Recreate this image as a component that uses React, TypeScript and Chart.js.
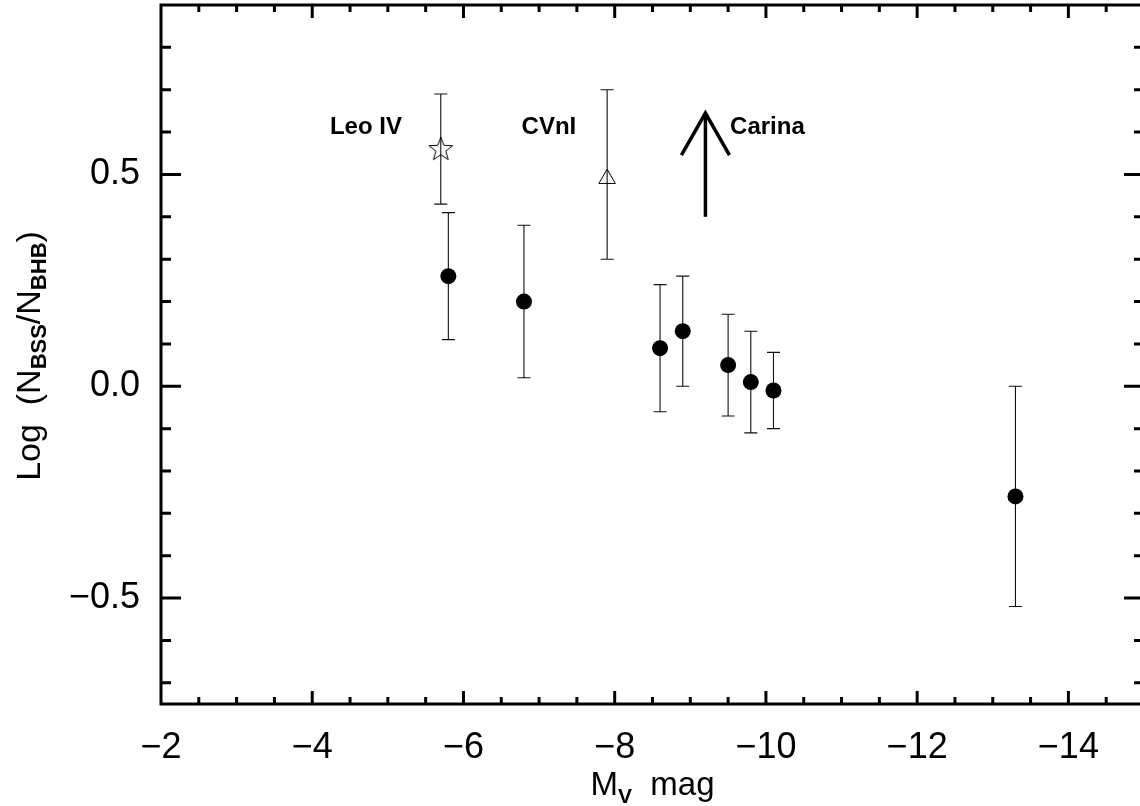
import React, { useEffect, useRef } from 'react';
import { Chart, registerables } from 'chart.js';

Chart.register(...registerables);

// ---- Data ----
// Filled circles
const magnitudes = [-5.8, -6.8, -8.6, -8.9, -9.5, -9.8, -10.1, -13.3];
const logRatios = [0.26, 0.2, 0.09, 0.13, 0.05, 0.01, -0.01, -0.26];
const errLow = [0.11, 0.02, -0.06, 0.0, -0.07, -0.11, -0.1, -0.52];
const errHigh = [0.41, 0.38, 0.24, 0.26, 0.17, 0.13, 0.08, 0.0];

// Leo IV (star)
const leoMag = [-5.7];
const leoRatio = [0.56];
const leoLow = [0.43];
const leoHigh = [0.69];

// CVnI (triangle)
const cvnMag = [-7.9];
const cvnRatio = [0.49];
const cvnLow = [0.3];
const cvnHigh = [0.7];

// Carina lower limit (arrow)
const carinaMag = [-9.2];
const carinaFrom = [0.4];
const carinaTo = [0.645];

// Annotations
const labelTexts = ['Leo IV', 'CVnI', 'Carina'];
const labelMags = [-4.71, -7.13, -10.02];
const labelRatios = [0.61, 0.61, 0.61];

// Axes
const xMin = -15;
const xMax = -2;
const yMin = -0.75;
const yMax = 0.9;
const xMajorTicks = [-2, -4, -6, -8, -10, -12, -14];
const yMajorTicks = [-0.5, 0, 0.5];
const xMinorStep = 0.5;
const yMinorStep = 0.1;

const FONT = '"Liberation Sans", Arial, Helvetica, sans-serif';

const fmtX = (v: number) => (v < 0 ? '\u2212' : '') + String(Math.abs(v));
const fmtY = (v: number) => (v < 0 ? '\u2212' : '') + Math.abs(v).toFixed(1);

function makeStar(): HTMLCanvasElement {
  const c = document.createElement('canvas');
  c.width = 28;
  c.height = 28;
  const g = c.getContext('2d')!;
  const cx = 14, cy = 14.5, ro = 12.5, ri = 5.2;
  g.beginPath();
  for (let i = 0; i < 10; i++) {
    const r = i % 2 === 0 ? ro : ri;
    const a = -Math.PI / 2 + (i * Math.PI) / 5;
    const px = cx + r * Math.cos(a);
    const py = cy + r * Math.sin(a);
    if (i === 0) g.moveTo(px, py);
    else g.lineTo(px, py);
  }
  g.closePath();
  g.strokeStyle = '#000';
  g.lineWidth = 1;
  g.stroke();
  return c;
}

type Part = { t: string; sub?: boolean };

function drawRich(ctx: CanvasRenderingContext2D, parts: Part[], cx: number, baseY: number, mainSize: number, subSize: number, subShift: number) {
  const fontOf = (p: Part) => (p.sub ? `bold ${subSize}px ${FONT}` : `${mainSize}px ${FONT}`);
  let total = 0;
  const widths = parts.map((p) => {
    ctx.font = fontOf(p);
    const w = ctx.measureText(p.t).width;
    total += w;
    return w;
  });
  let x = cx - total / 2;
  ctx.textAlign = 'left';
  ctx.textBaseline = 'alphabetic';
  parts.forEach((p, i) => {
    ctx.font = fontOf(p);
    ctx.fillText(p.t, x, baseY + (p.sub ? subShift : 0));
    x += widths[i];
  });
}

const errorBarPlugin = {
  id: 'errorBars',
  beforeDatasetsDraw(chart: any) {
    const { ctx, scales } = chart;
    const xs = scales.x, ys = scales.y;
    const cap = 6.5;
    const groups = [
      [magnitudes, errLow, errHigh],
      [leoMag, leoLow, leoHigh],
      [cvnMag, cvnLow, cvnHigh],
    ];
    ctx.save();
    ctx.strokeStyle = '#111';
    ctx.lineWidth = 1.1;
    groups.forEach(([mx, lo, hi]) => {
      mx.forEach((m: number, i: number) => {
        const px = xs.getPixelForValue(m);
        const y1 = ys.getPixelForValue(lo[i]);
        const y2 = ys.getPixelForValue(hi[i]);
        ctx.beginPath();
        ctx.moveTo(px, y1);
        ctx.lineTo(px, y2);
        ctx.moveTo(px - cap, y1);
        ctx.lineTo(px + cap, y1);
        ctx.moveTo(px - cap, y2);
        ctx.lineTo(px + cap, y2);
        ctx.stroke();
      });
    });
    ctx.restore();
  },
};

const framePlugin = {
  id: 'frame',
  afterDraw(chart: any) {
    const { ctx, chartArea, scales } = chart;
    const xs = scales.x, ys = scales.y;
    const { left, right, top, bottom } = chartArea;
    ctx.save();
    ctx.strokeStyle = '#000';
    ctx.fillStyle = '#000';

    // Carina arrow
    carinaMag.forEach((m, i) => {
      const px = xs.getPixelForValue(m);
      const yb = ys.getPixelForValue(carinaFrom[i]);
      const yt = ys.getPixelForValue(carinaTo[i]);
      ctx.lineWidth = 3.5;
      ctx.lineCap = 'butt';
      ctx.beginPath();
      ctx.moveTo(px, yb);
      ctx.lineTo(px, yt);
      ctx.stroke();
      ctx.beginPath();
      ctx.moveTo(px - 24, yt + 42);
      ctx.lineTo(px, yt);
      ctx.lineTo(px + 24, yt + 42);
      ctx.stroke();
    });

    // Labels
    ctx.font = `bold 24px ${FONT}`;
    ctx.textAlign = 'center';
    ctx.textBaseline = 'middle';
    labelTexts.forEach((t, i) => {
      ctx.fillText(t, xs.getPixelForValue(labelMags[i]), ys.getPixelForValue(labelRatios[i]));
    });

    // Frame box
    ctx.lineWidth = 3;
    ctx.lineCap = 'square';
    ctx.strokeRect(left, top, right - left, bottom - top);

    // Inward ticks
    ctx.lineWidth = 3;
    ctx.lineCap = 'butt';
    const isMajor = (v: number, majors: number[]) => majors.some((m) => Math.abs(m - v) < 1e-6);
    for (let v = xMax; v >= xMin - 1e-9; v -= xMinorStep) {
      const px = xs.getPixelForValue(v);
      if (px <= left + 1 || px >= right - 1) continue;
      const len = isMajor(v, xMajorTicks) ? 13 : 7;
      ctx.beginPath();
      ctx.moveTo(px, bottom);
      ctx.lineTo(px, bottom - len);
      ctx.moveTo(px, top);
      ctx.lineTo(px, top + len);
      ctx.stroke();
    }
    for (let k = Math.ceil(yMin / yMinorStep); k * yMinorStep <= yMax + 1e-9; k++) {
      const v = k * yMinorStep;
      const py = ys.getPixelForValue(v);
      if (py <= top + 1 || py >= bottom - 1) continue;
      const len = isMajor(v, yMajorTicks) ? 20 : 10;
      ctx.beginPath();
      ctx.moveTo(left, py);
      ctx.lineTo(left + len, py);
      ctx.moveTo(right, py);
      ctx.lineTo(right - len, py);
      ctx.stroke();
    }

    // Axis titles
    ctx.fillStyle = '#000';
    drawRich(ctx, [{ t: 'M' }, { t: 'V', sub: true }, { t: '  mag' }], (left + right) / 2, 795, 33, 21, 8);
    ctx.save();
    ctx.translate(40, 356);
    ctx.rotate(-Math.PI / 2);
    drawRich(
      ctx,
      [{ t: 'Log  (N' }, { t: 'BSS', sub: true }, { t: '/N' }, { t: 'BHB', sub: true }, { t: ')' }],
      0,
      0,
      34,
      22,
      6
    );
    ctx.restore();
    ctx.restore();
  },
};

export default function App() {
  const ref = useRef<HTMLCanvasElement>(null);

  useEffect(() => {
    if (!ref.current) return;
    const star = makeStar();
    const tickFont = { family: FONT, size: 36 };
    const chart = new Chart(ref.current, {
      type: 'scatter',
      data: {
        datasets: [
          {
            data: magnitudes.map((x, i) => ({ x, y: logRatios[i] })),
            pointRadius: 8,
            pointBackgroundColor: '#000',
            pointBorderColor: '#000',
            pointBorderWidth: 0,
            showLine: false,
          },
          {
            data: leoMag.map((x, i) => ({ x, y: leoRatio[i] })),
            pointStyle: star as any,
            pointRadius: 12,
            showLine: false,
          },
          {
            data: cvnMag.map((x, i) => ({ x, y: cvnRatio[i] })),
            pointStyle: 'triangle',
            pointRadius: 9.5,
            pointBackgroundColor: 'rgba(0,0,0,0)',
            pointBorderColor: '#000',
            pointBorderWidth: 1,
            showLine: false,
          },
        ],
      },
      options: {
        responsive: false,
        animation: false,
        events: [],
        layout: { autoPadding: false, padding: { top: 5, right: 6, left: 0, bottom: 0 } },
        plugins: { legend: { display: false }, tooltip: { enabled: false } },
        scales: {
          x: {
            type: 'linear',
            min: xMin,
            max: xMax,
            reverse: true,
            grid: { display: false, drawTicks: false },
            border: { display: false },
            ticks: {
              font: tickFont,
              color: '#000',
              padding: 22,
              maxRotation: 0,
              autoSkip: false,
              callback: (v: any) => fmtX(Number(v)),
            },
            afterBuildTicks: (s: any) => {
              s.ticks = xMajorTicks.map((v) => ({ value: v }));
            },
            afterFit: (s: any) => {
              s.height = 102;
              s.paddingLeft = 0;
              s.paddingRight = 0;
            },
          },
          y: {
            type: 'linear',
            min: yMin,
            max: yMax,
            grid: { display: false, drawTicks: false },
            border: { display: false },
            ticks: {
              font: tickFont,
              color: '#000',
              padding: 21,
              autoSkip: false,
              callback: (v: any) => fmtY(Number(v)),
            },
            afterBuildTicks: (s: any) => {
              s.ticks = yMajorTicks.map((v) => ({ value: v }));
            },
            afterFit: (s: any) => {
              s.width = 161;
              s.paddingTop = 0;
              s.paddingBottom = 0;
            },
          },
        },
      },
      plugins: [errorBarPlugin, framePlugin],
    } as any);
    return () => chart.destroy();
  }, []);

  return (
    <div style={{ position: 'fixed', left: 0, top: 0, width: 1140, height: 806, overflow: 'hidden', background: '#fff' }}>
      <canvas ref={ref} width={1150} height={806} style={{ display: 'block' }} />
    </div>
  );
}
